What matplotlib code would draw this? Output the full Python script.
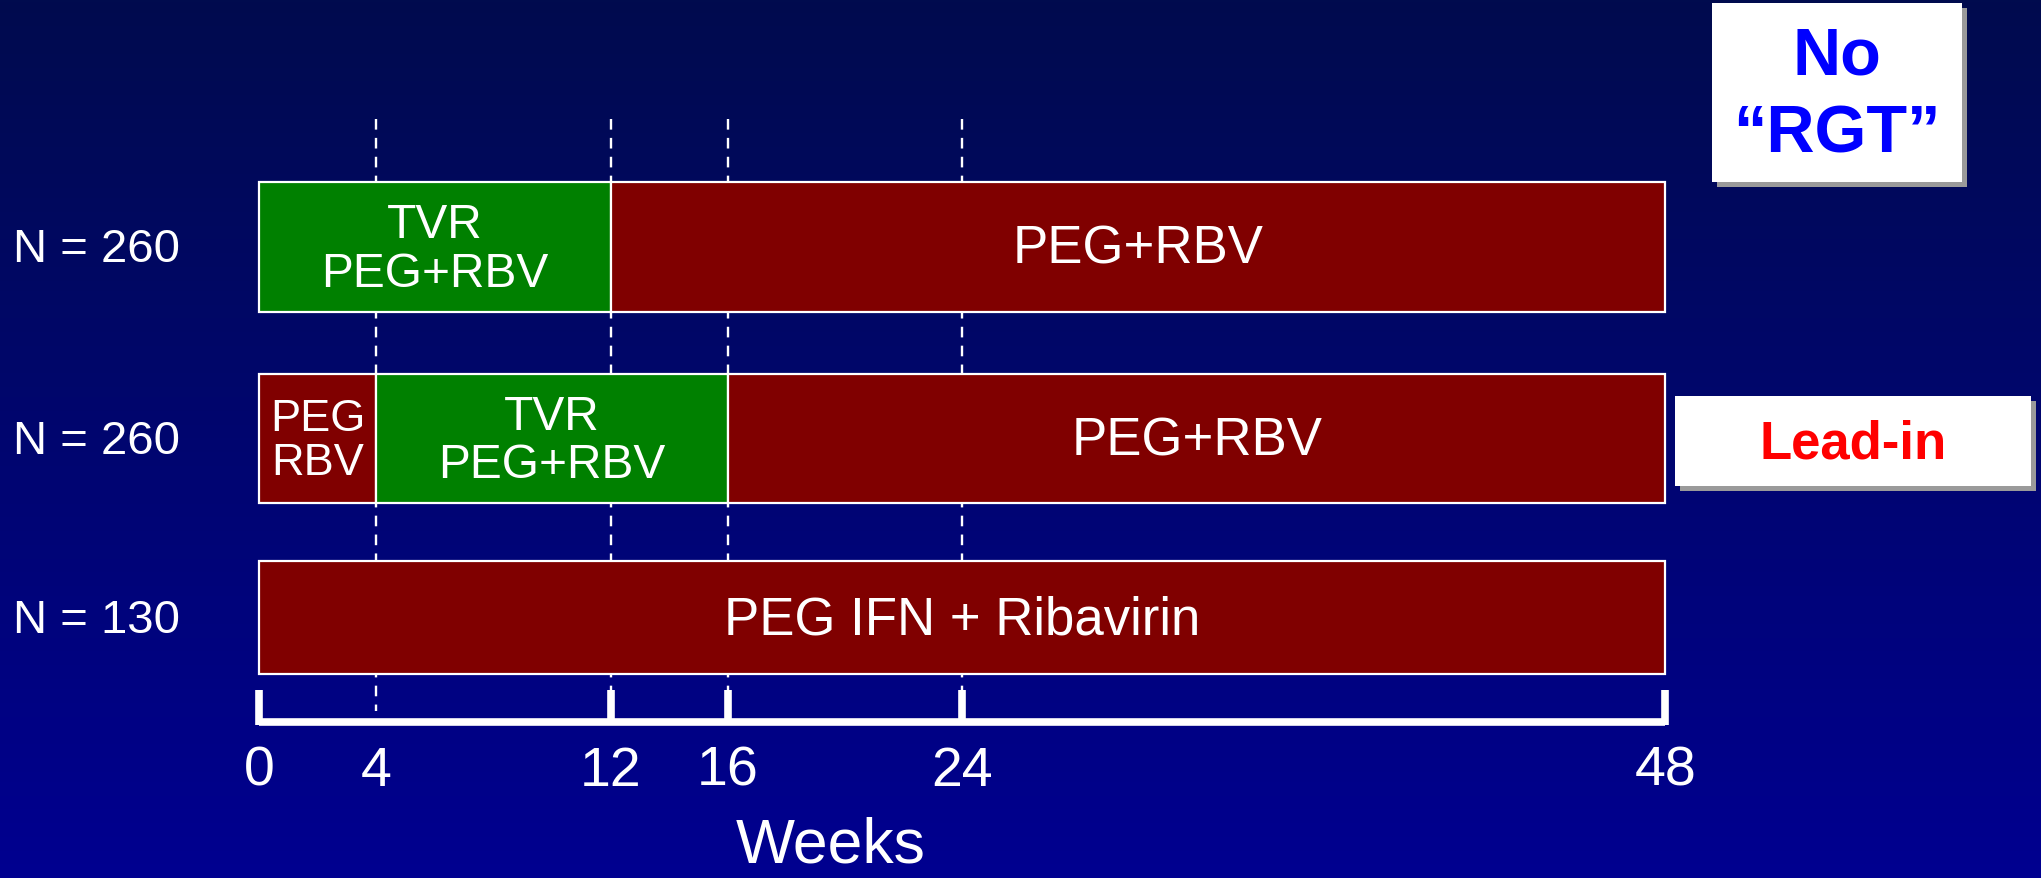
import numpy as np
import matplotlib
matplotlib.use('Agg')
import matplotlib.pyplot as plt
from matplotlib.patches import Rectangle

plt.rcParams['font.family'] = ['Liberation Sans', 'DejaVu Sans']

# treatment arms, top to bottom
arm_labels = ['N = 260', 'N = 260', 'N = 130']
seg_starts = [[0, 12], [0, 4, 16], [0]]
seg_ends = [[12, 48], [4, 16, 48], [48]]
seg_kinds = [['tvr', 'peg'], ['peg', 'tvr', 'peg'], ['peg']]
seg_text = [['TVR\nPEG+RBV', 'PEG+RBV'],
            ['PEG\nRBV', 'TVR\nPEG+RBV', 'PEG+RBV'],
            ['PEG IFN + Ribavirin']]
week_ticks = [0, 4, 12, 16, 24, 48]
bracket_ticks = [0, 12, 16, 24, 48]
dashed_weeks = [4, 12, 16, 24]

colors = {'tvr': '#008000', 'peg': '#800000'}

W, H = 2041, 879
x0, px_per_week = 259, 29.3

def px2w(px):
    return (px - x0) / px_per_week

fig = plt.figure(figsize=(W / 100, H / 100), dpi=100)
ax = fig.add_axes([0, 0, 1, 1])
ax.set_xlim(px2w(0), px2w(W))
ax.set_ylim(H, 0)
ax.axis('off')

# background gradient
top = np.array([0, 11, 78]) / 255
bot = np.array([0, 0, 144]) / 255
t = np.linspace(0, 1, 256)[:, None]
grad = (top + (bot - top) * t)[:, None, :]
ax.imshow(grad, extent=[px2w(0), px2w(W), H, 0], aspect='auto', zorder=0)

# row geometry (pixel rows)
row_top = [183, 375, 562]
row_h = [130, 129, 113]
label_y = [250, 442, 621]

for dw in dashed_weeks:
    ax.plot([dw, dw], [120, 712], color='white', lw=1.7,
            ls=(0, (4.5, 3.5)), zorder=1)

for i in range(len(arm_labels)):
    ax.text(px2w(13), label_y[i], arm_labels[i], color='white', fontsize=34,
            ha='left', va='center', zorder=5)
    for s, e, k, txt in zip(seg_starts[i], seg_ends[i], seg_kinds[i], seg_text[i]):
        ax.barh(row_top[i] + row_h[i] / 2, e - s, left=s, height=row_h[i],
                color=colors[k], edgecolor='white', linewidth=1.6, zorder=3)
        if e - s <= 4:
            fs = 32.5
        elif k == 'tvr':
            fs = 34.5
        else:
            fs = 38
        ax.text((s + e) / 2, row_top[i] + row_h[i] / 2 + 2, txt, color='white',
                fontsize=fs, ha='center', va='center', linespacing=1.1, zorder=5)

# week bracket
ax.plot([bracket_ticks[0], bracket_ticks[-1]], [723, 723], color='white',
        lw=5.5, solid_capstyle='butt', zorder=4)
for bt in bracket_ticks:
    ax.plot([bt, bt], [726, 691], color='white', lw=5.5,
            solid_capstyle='butt', zorder=4)
for wt in week_ticks:
    ax.text(wt, 772, str(wt), color='white', fontsize=40,
            ha='center', va='center', zorder=5)
ax.text(px2w(831), 863, 'Weeks', color='white', fontsize=45,
        ha='center', va='baseline', zorder=5)

# callout boxes in pixel space
ov = fig.add_axes([0, 0, 1, 1])
ov.set_xlim(0, W)
ov.set_ylim(H, 0)
ov.axis('off')
ov.patch.set_alpha(0)

def callout(x, y, w, h, text, color, fs, ls=1.15):
    ov.add_patch(Rectangle((x + 5, y + 5), w, h, facecolor='#9a9a9a',
                           edgecolor='none', zorder=1))
    ov.add_patch(Rectangle((x, y), w, h, facecolor='white',
                           edgecolor='none', zorder=2))
    ov.text(x + w / 2, y + h / 2 + 3, text, color=color, fontsize=fs,
            fontweight='bold', ha='center', va='center', linespacing=ls,
            zorder=3)

callout(1712, 4, 250, 179, 'No\n\u201cRGT\u201d', '#0000ff', 48, ls=1.35)
callout(1675, 397, 356, 90, 'Lead-in', '#ff0000', 38)

fig.savefig('out.png', dpi=100)
